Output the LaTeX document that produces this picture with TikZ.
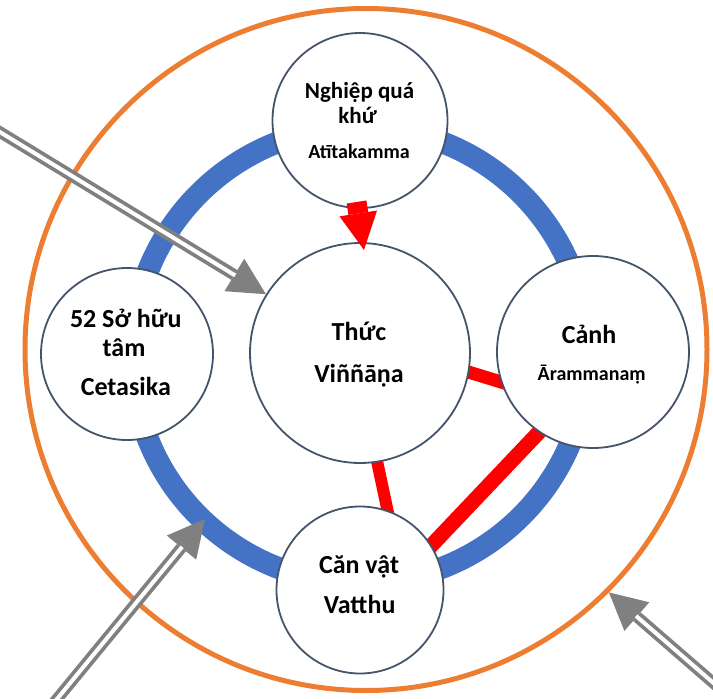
\documentclass[tikz,border=0pt]{standalone}
\usepackage{fontspec}
\setmainfont{Carlito}
\usetikzlibrary{arrows.meta,calc}

\definecolor{ringorange}{HTML}{ED7D31}
\definecolor{ringblue}{HTML}{4472C4}
\definecolor{bubbleline}{HTML}{44546A}
\definecolor{linkred}{HTML}{FF0000}
\definecolor{flowgray}{HTML}{808080}

\tikzset{
  bubble/.style={circle, draw=bubbleline, line width=1.8pt, fill=white, inner sep=0pt},
  ringline/.style={circle, inner sep=0pt, fill=none},
  bigtxt/.style={anchor=base, inner sep=0pt, font=\bfseries\fontsize{26}{30}\selectfont},
  midtxt/.style={anchor=base, inner sep=0pt, font=\bfseries\fontsize{23}{27}\selectfont},
  smalltxt/.style={anchor=base, inner sep=0pt, font=\bfseries\fontsize{20}{24}\selectfont},
  redlink/.style={draw=linkred, shorten <=-6pt, shorten >=-6pt},
  redarrow/.style={draw=linkred, fill=linkred, line width=20pt,
    -{Triangle[length=37pt,width=38pt,line width=0pt]}},
  grayflow/.style={draw=flowgray, fill=flowgray, line width=11.5pt,
    -{Triangle[length=37pt,width=38pt,line width=0pt]}},
  grayinner/.style={draw=white, line width=4pt, shorten >=36pt},
}

\begin{document}
\begin{tikzpicture}[x=1pt,y=-1pt]
  \useasboundingbox (0,0) rectangle (713,699);
  \clip (0,0) rectangle (713,699);

  % outer orange ring and inner blue ring
  \node[ringline, draw=ringorange, line width=5pt, minimum size=682pt] (outer) at (366,349.5) {};
  \node[ringline, draw=ringblue, line width=22pt, minimum size=456pt] (ring) at (360,355) {};

  % circle centres
  \coordinate (pkarma) at (360,120.5);
  \coordinate (pmind) at (360,353);
  \coordinate (pcet) at (127,354);
  \coordinate (pobj) at (593,352);
  \coordinate (pbase) at (360,590);

  % red links, drawn below the circles
  \path (pmind) node[circle, minimum size=220pt, inner sep=0pt, outer sep=0.9pt] (mindS) {}
        (pobj) node[circle, minimum size=192pt, inner sep=0pt, outer sep=0.9pt] (objS) {}
        (pbase) node[circle, minimum size=167pt, inner sep=0pt, outer sep=0.9pt] (baseS) {};
  \draw[redlink, line width=13pt] (mindS.-10.5) -- (objS.198);
  \draw[redlink, line width=12pt] (mindS.279.3) -- (baseS.71.4);
  \draw[redlink, line width=15pt] (objS.236.6) -- (baseS.32);

  \node[bubble, minimum size=175pt] (karma) at (pkarma) {};
  \node[bubble, minimum size=220pt] (mind) at (pmind) {};
  \node[bubble, minimum size=172pt] (cet) at (pcet) {};
  \node[bubble, minimum size=192pt] (obj) at (pobj) {};
  \node[bubble, minimum size=167pt] (base) at (pbase) {};

  % texts
  \node[midtxt] (karmaA) at (359.5,98) {Nghiệp quá};
  \node[midtxt] (karmaB) at (357.5,123) {khứ};
  \node[smalltxt] (karmaC) at (359,158) {Atītakamma};

  \node[bigtxt] (cetA) at (125.8,327) {52 Sở hữu};
  \node[bigtxt] (cetB) at (124,356) {tâm};
  \node[bigtxt] (cetC) at (125.8,395) {Cetasika};

  \node[bigtxt] (mindA) at (359,340) {Thức};
  \node[bigtxt] (mindB) at (359,382) {Viññāṇa};

  \node[bigtxt] (objA) at (589,343) {Cảnh};
  \node[smalltxt] (objB) at (591.7,380) {Ārammanaṃ};

  \node[bigtxt] (baseA) at (359,573) {Căn vật};
  \node[bigtxt] (baseB) at (359.7,613) {Vatthu};

  % red block arrow from past kamma into consciousness
  \draw[redarrow] ([xshift=-3.5pt,yshift=6.9pt]karma.south) -- ([xshift=4pt,yshift=-7.9pt]mind.north);

  % gray double arrows coming from outside
  \coordinate (inA) at (-10,126);
  \coordinate (inB) at (48,710);
  \coordinate (inC) at (725,693);
  \coordinate (tipB) at (205,519);

  \draw[grayflow] (inA) -- (mind.148);
  \draw[grayinner] (inA) -- (mind.148);

  \draw[grayflow] (inB) -- (tipB);
  \draw[grayinner] (inB) -- (tipB);

  \draw[grayflow] (inC) -- (outer.-45.8);
  \draw[grayinner] (inC) -- (outer.-45.8);
\end{tikzpicture}
\end{document}
